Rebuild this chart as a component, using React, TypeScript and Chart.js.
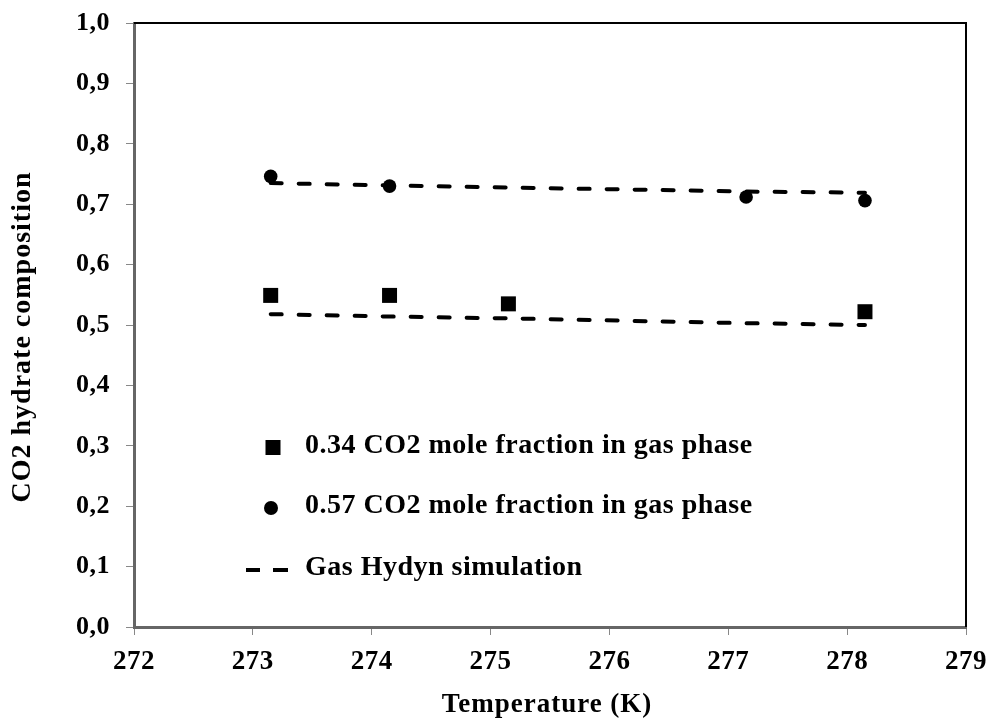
import React, { useEffect, useRef } from "react";
import { Chart, registerables } from "chart.js";

Chart.register(...registerables);

// Measured hydrate compositions (CO2 fraction in hydrate phase)
const temps034 = [273.15, 274.15, 275.15, 278.15];
const comp034 = [0.549, 0.549, 0.535, 0.522];

const temps057 = [273.15, 274.15, 277.15, 278.15];
const comp057 = [0.746, 0.730, 0.712, 0.706];

// Gas Hydyn simulation curves
const simTemps034 = [273.15, 274.15, 275.15, 277.15, 278.15];
const simComp034 = [0.518, 0.514, 0.511, 0.503, 0.500];

const simTemps057 = [273.15, 274.15, 277.15, 278.15];
const simComp057 = [0.735, 0.731, 0.721, 0.719];

const xTicks = [272, 273, 274, 275, 276, 277, 278, 279];
const yTicks = [0, 0.1, 0.2, 0.3, 0.4, 0.5, 0.6, 0.7, 0.8, 0.9, 1.0];

const label034 = "0.34 CO2 mole fraction in gas phase";
const label057 = "0.57 CO2 mole fraction in gas phase";
const labelSim = "Gas Hydyn simulation";
const xTitle = "Temperature (K)";
const yTitle = "CO2 hydrate composition";

const FONT = "'Liberation Serif', 'Times New Roman', serif";

const toPoints = (xs: number[], ys: number[]) => xs.map((x, i) => ({ x, y: ys[i] }));

// Slightly spread lettering for tick labels
const spacingPlugin = {
  id: "spacing",
  beforeInit(chart: any) {
    chart.ctx.letterSpacing = "0.5px";
  },
  beforeUpdate(chart: any) {
    chart.ctx.letterSpacing = "0.5px";
  },
  beforeDraw(chart: any) {
    chart.ctx.letterSpacing = "0.5px";
  },
};

// Black frame on the top and right of the plot area, plus axis titles
const framePlugin = {
  id: "frame",
  afterDraw(chart: any) {
    const { ctx, chartArea } = chart;
    ctx.save();
    ctx.strokeStyle = "#000";
    ctx.lineWidth = 2;
    ctx.beginPath();
    ctx.moveTo(chartArea.left, chartArea.top);
    ctx.lineTo(chartArea.right, chartArea.top);
    ctx.lineTo(chartArea.right, chartArea.bottom);
    ctx.stroke();

    ctx.fillStyle = "#000";
    ctx.textAlign = "center";
    ctx.textBaseline = "alphabetic";
    ctx.letterSpacing = "1px";

    ctx.font = `bold 27px ${FONT}`;
    ctx.fillText(xTitle, (chartArea.left + chartArea.right) / 2 - 3, chartArea.bottom + 85);

    ctx.font = `bold 28px ${FONT}`;
    ctx.translate(30, (chartArea.top + chartArea.bottom) / 2 + 12);
    ctx.rotate(-Math.PI / 2);
    ctx.fillText(yTitle, 0, 0);
    ctx.restore();
  },
};

// Legend drawn inside the plot area
const insetLegendPlugin = {
  id: "insetLegend",
  afterDatasetsDraw(chart: any) {
    const { ctx, chartArea } = chart;
    const markerX = chartArea.left + 139;
    const textX = chartArea.left + 171;
    const rows = [
      { y: chartArea.top + 424.5, kind: "rect", text: label034 },
      { y: chartArea.top + 485, kind: "circle", text: label057 },
      { y: chartArea.top + 547, kind: "dash", text: labelSim },
    ];
    ctx.save();
    ctx.fillStyle = "#000";
    ctx.strokeStyle = "#000";
    ctx.font = `bold 28px ${FONT}`;
    ctx.letterSpacing = "0.5px";
    ctx.textBaseline = "alphabetic";
    ctx.textAlign = "left";
    for (const r of rows) {
      if (r.kind === "rect") {
        ctx.fillRect(markerX - 7.5, r.y - 7.5, 15, 15);
      } else if (r.kind === "circle") {
        ctx.beginPath();
        ctx.arc(markerX - 2, r.y, 7, 0, Math.PI * 2);
        ctx.fill();
      } else {
        ctx.lineWidth = 4;
        ctx.lineCap = "butt";
        ctx.beginPath();
        ctx.moveTo(markerX - 27, r.y);
        ctx.lineTo(markerX - 13, r.y);
        ctx.moveTo(markerX, r.y);
        ctx.lineTo(markerX + 15, r.y);
        ctx.stroke();
      }
      ctx.fillText(r.text, textX, r.y + 5);
    }
    ctx.restore();
  },
};

export default function App() {
  const canvasRef = useRef<HTMLCanvasElement | null>(null);

  useEffect(() => {
    const canvas = canvasRef.current;
    if (!canvas) return;
    const chart = new Chart(canvas, {
      type: "scatter",
      data: {
        datasets: [
          {
            label: labelSim,
            data: toPoints(simTemps057, simComp057),
            showLine: true,
            borderColor: "#000",
            borderWidth: 4,
            borderDash: [11, 17],
            borderCapStyle: "round",
            pointRadius: 0,
            fill: false,
          },
          {
            label: labelSim,
            data: toPoints(simTemps034, simComp034),
            showLine: true,
            borderColor: "#000",
            borderWidth: 4,
            borderDash: [11, 17],
            borderCapStyle: "round",
            pointRadius: 0,
            fill: false,
          },
          {
            label: label034,
            data: toPoints(temps034, comp034),
            pointStyle: "rect",
            pointRadius: 10.6,
            backgroundColor: "#000",
            borderColor: "#000",
            borderWidth: 0,
          },
          {
            label: label057,
            data: toPoints(temps057, comp057),
            pointStyle: "circle",
            pointRadius: 6.8,
            backgroundColor: "#000",
            borderColor: "#000",
            borderWidth: 0,
          },
        ],
      },
      options: {
        responsive: false,
        animation: false,
        layout: { padding: { left: 0, top: 23, right: 23, bottom: 0 } },
        plugins: {
          legend: { display: false },
          tooltip: { enabled: false },
        },
        scales: {
          x: {
            type: "linear",
            min: 272,
            max: 279,
            afterBuildTicks: (scale: any) => {
              scale.ticks = xTicks.map((v) => ({ value: v }));
            },
            afterFit: (scale: any) => {
              scale.height = 101;
              scale.paddingLeft = 0;
              scale.paddingRight = 0;
            },
            ticks: {
              color: "#000",
              font: { family: FONT, size: 27, weight: "bold" },
              padding: 11,
              maxRotation: 0,
              callback: (v: any) => String(v),
            },
            grid: {
              drawOnChartArea: false,
              drawTicks: true,
              tickLength: 8,
              color: "#888",
              lineWidth: 1,
            },
            border: { display: true, color: "#666", width: 3 },
            title: { display: false },
          },
          y: {
            type: "linear",
            min: 0,
            max: 1,
            afterBuildTicks: (scale: any) => {
              scale.ticks = yTicks.map((v) => ({ value: v }));
            },
            afterFit: (scale: any) => {
              scale.width = 134;
              scale.paddingTop = 0;
              scale.paddingBottom = 0;
            },
            ticks: {
              color: "#000",
              font: { family: FONT, size: 26, weight: "bold" },
              padding: 16,
              callback: (v: any) => Number(v).toFixed(1).replace(".", ","),
            },
            grid: {
              drawOnChartArea: false,
              drawTicks: true,
              tickLength: 8,
              color: "#888",
              lineWidth: 1,
            },
            border: { display: true, color: "#666", width: 3 },
            title: { display: false },
          },
        },
      },
      plugins: [spacingPlugin, framePlugin, insetLegendPlugin],
    } as any);
    return () => chart.destroy();
  }, []);

  return (
    <div style={{ position: "absolute", left: 0, top: 0, width: 989, height: 728, background: "#fff" }}>
      <canvas ref={canvasRef} width={989} height={728} style={{ display: "block" }} />
    </div>
  );
}
